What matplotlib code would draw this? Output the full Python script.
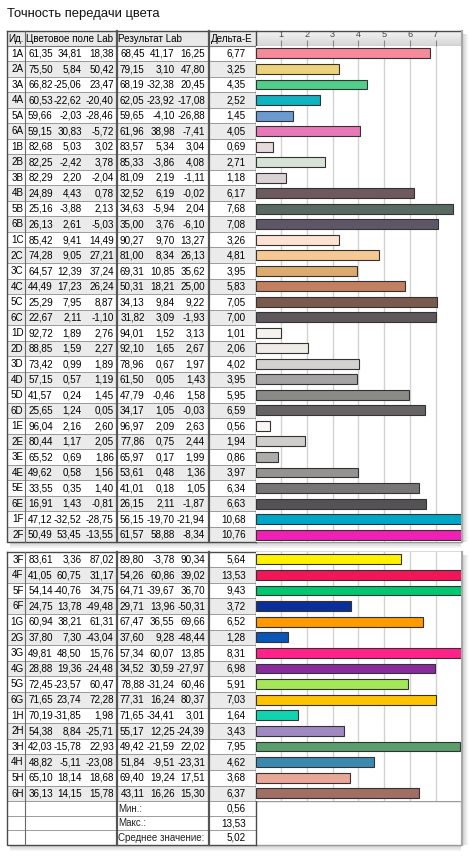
import numpy as np
import matplotlib.pyplot as plt
from matplotlib.patches import Rectangle

plt.rcParams['font.family'] = ['Liberation Sans', 'DejaVu Sans']

# ---- data ----
ids = ['1A', '2A', '3A', '4A', '5A', '6A',
       '1B', '2B', '3B', '4B', '5B', '6B',
       '1C', '2C', '3C', '4C', '5C', '6C',
       '1D', '2D', '3D', '4D', '5D', '6D',
       '1E', '2E', '3E', '4E', '5E', '6E',
       '1F', '2F',
       '3F', '4F', '5F', '6F',
       '1G', '2G', '3G', '4G', '5G', '6G',
       '1H', '2H', '3H', '4H', '5H', '6H']

ref_L = [61.35, 75.50, 66.82, 60.53, 59.66, 59.15,
         82.68, 82.25, 82.29, 24.89, 25.16, 26.13,
         85.42, 74.28, 64.57, 44.49, 25.29, 22.67,
         92.72, 88.85, 73.42, 57.15, 41.57, 25.65,
         96.04, 80.44, 65.52, 49.62, 33.55, 16.91,
         47.12, 50.49,
         83.61, 41.05, 54.14, 24.75,
         60.94, 37.80, 49.81, 28.88, 72.45, 71.65,
         70.19, 54.38, 42.03, 48.82, 65.10, 36.13]
ref_a = [34.81, 5.84, -25.06, -22.62, -2.03, 30.83,
         5.03, -2.42, 2.20, 4.43, -3.88, 2.61,
         9.41, 9.05, 12.39, 17.23, 7.95, 2.11,
         1.89, 1.59, 0.99, 0.57, 0.24, 1.24,
         2.16, 1.17, 0.69, 0.58, 0.35, 1.43,
         -32.52, 53.45,
         3.36, 60.75, -40.76, 13.78,
         38.21, 7.30, 48.50, 19.36, -23.57, 23.74,
         -31.85, 8.84, -15.78, -5.11, 18.14, 14.15]
ref_b = [18.38, 50.42, 23.47, -20.40, -28.46, -5.72,
         3.02, 3.78, -2.04, 0.78, 2.13, -5.03,
         14.49, 27.21, 37.24, 26.24, 8.87, -1.10,
         2.76, 2.27, 1.89, 1.19, 1.45, 0.05,
         2.60, 2.05, 1.86, 1.56, 1.40, -0.81,
         -28.75, -13.55,
         87.02, 31.17, 34.75, -49.48,
         61.31, -43.04, 15.76, -24.48, 60.47, 72.28,
         1.98, -25.71, 22.93, -23.08, 18.68, 15.78]

res_L = [68.45, 79.15, 68.19, 62.05, 59.65, 61.96,
         83.57, 85.33, 81.09, 32.52, 34.63, 35.00,
         90.27, 81.00, 69.31, 50.31, 34.13, 31.82,
         94.01, 92.10, 78.96, 61.50, 47.79, 34.17,
         96.97, 77.86, 65.97, 53.61, 41.01, 26.15,
         56.15, 61.57,
         89.80, 54.26, 64.71, 29.71,
         67.47, 37.60, 57.34, 34.52, 78.88, 77.31,
         71.65, 55.17, 49.42, 51.84, 69.40, 43.11]
res_a = [41.17, 3.10, -32.38, -23.92, -4.10, 38.98,
         5.34, -3.86, 2.19, 6.19, -5.94, 3.76,
         9.70, 8.34, 10.85, 18.21, 9.84, 3.09,
         1.52, 1.65, 0.67, 0.05, -0.46, 1.05,
         2.09, 0.75, 0.17, 0.48, 0.18, 2.11,
         -19.70, 58.88,
         -3.78, 60.86, -39.67, 13.96,
         36.55, 9.28, 60.07, 30.59, -31.24, 16.24,
         -34.41, 12.25, -21.59, -9.51, 19.24, 16.26]
res_b = [16.25, 47.80, 20.45, -17.08, -26.88, -7.41,
         3.04, 4.08, -1.11, -0.02, 2.04, -6.10,
         13.27, 26.13, 35.62, 25.00, 9.22, -1.93,
         3.13, 2.67, 1.97, 1.43, 1.58, -0.03,
         2.63, 2.44, 1.99, 1.36, 1.05, -1.87,
         -21.94, -8.34,
         90.34, 39.02, 36.70, -50.31,
         69.66, -48.44, 13.85, -27.97, 60.46, 80.37,
         3.01, -24.39, 22.02, -23.31, 17.51, 15.30]

delta_e = [6.77, 3.25, 4.35, 2.52, 1.45, 4.05,
           0.69, 2.71, 1.18, 6.17, 7.68, 7.08,
           3.26, 4.81, 3.95, 5.83, 7.05, 7.00,
           1.01, 2.06, 4.02, 3.95, 5.95, 6.59,
           0.56, 1.94, 0.86, 3.97, 6.34, 6.63,
           10.68, 10.76,
           5.64, 13.53, 9.43, 3.72,
           6.52, 1.28, 8.31, 6.98, 5.91, 7.03,
           1.64, 3.43, 7.95, 4.62, 3.68, 6.37]

bar_colors = ['#f48a9a', '#ecd27a', '#4fcf8a', '#10b3c0', '#6a9bd0', '#e879b8',
              '#e8d9da', '#d6e3d7', '#d9d3d5', '#6d5a5e', '#586a62', '#5e5666',
              '#fde2d2', '#f5c894', '#dcaa6c', '#c28060', '#7a5a4e', '#5e585e',
              '#f6f2ee', '#efebe6', '#d4d2d0', '#a4a2a2', '#8a8a86', '#676365',
              '#fcf6f4', '#d0cecc', '#aeacaa', '#959392', '#777575', '#545254',
              '#00a6c6', '#f020b4',
              '#fff200', '#f21658', '#00c870', '#0a2f9a',
              '#ff9a00', '#0a55b8', '#ff2288', '#8a2aa0', '#a4e85a', '#ffc400',
              '#10d4b0', '#a088c0', '#5a9e6c', '#3a8ab0', '#e8a898', '#a06e64']

summary_labels = ['Мин.:', 'Макс.:', 'Среднее значение:']
summary_values = [0.56, 13.53, 5.02]
col_titles = ['Ид.', 'Цветовое поле Lab', 'Результат Lab', 'Дельта-E']
scale_ticks = [1, 2, 3, 4, 5, 6, 7]
n_top = 32  # rows in the upper block

# ---- layout (pixels) ----
W, H = 469, 856
X0, X1, X2, X3, X4, X5 = 6.7, 25.3, 117.0, 209.3, 255.5, 461.3
HEAD_TOP, HEAD_BOT = 30.7, 45.7
ROW1 = 15.52
B2_TOP, ROW2, ROW_S = 551.5, 15.6, 14.6
FS = 7.1
GRAY_ROW = '#ebebeb'
LINE = '#8c8c8c'
DARK = '#4a4a4a'


def fmt(v):
    return '{:.2f}'.format(v).replace('.', ',')


fig = plt.figure(figsize=(W / 100, H / 100), dpi=100)
tab = fig.add_axes([0, 0, 1, 1])
tab.set_xlim(0, W)
tab.set_ylim(H, 0)
tab.axis('off')

fig.text(7 / W, 1 - 13.5 / H, 'Точность передачи цвета', fontsize=9.4,
         va='center', ha='left', color='#111111')


def shadow(x, y, w, h, side):
    for k in range(5):
        a = 0.16 - k * 0.03
        if side == 'r':
            tab.add_patch(Rectangle((x + k, y + 3), 1, h - 3, color='#000000', alpha=a, lw=0))
        else:
            tab.add_patch(Rectangle((x + 3, y + k), w - 3, 1, color='#000000', alpha=a, lw=0))


def data_row(top, h, i, shade):
    cy = top + h / 2 + 0.3
    tab.add_patch(Rectangle((X0, top), X4 - X0, h, color=GRAY_ROW if shade else 'white', lw=0))
    tab.plot([X0, X4], [top + h, top + h], color=LINE, lw=0.6)
    tab.text(23.6, cy, ids[i], ha='right', va='center', fontsize=FS)
    for x, v in zip([52.8, 81.6, 113.8], [ref_L[i], ref_a[i], ref_b[i]]):
        tab.text(x, cy, fmt(v), ha='right', va='center', fontsize=FS)
    for x, v in zip([144.6, 174.6, 205.0], [res_L[i], res_a[i], res_b[i]]):
        tab.text(x, cy, fmt(v), ha='right', va='center', fontsize=FS)
    tab.text(245.5, cy, fmt(delta_e[i]), ha='right', va='center', fontsize=FS)


def frame(top, bottom):
    tab.plot([X0, X0, X4], [top, bottom, bottom], color=DARK, lw=1.0)
    tab.plot([X0, X5], [top, top], color=DARK, lw=1.0)
    tab.plot([X4, X5], [bottom, bottom], color='#999999', lw=1.0)
    tab.plot([X1, X1], [top, bottom], color='#6a6a6a', lw=0.8)
    tab.plot([X2, X2], [top, bottom], color='#555555', lw=1.6)
    tab.plot([X3, X3], [top, bottom], color='#555555', lw=1.6)
    tab.plot([X4, X4], [top, bottom], color=DARK, lw=1.0)
    tab.plot([X5 + 0.5, X5 + 0.5], [top, bottom], color='#a8a8a8', lw=1.6)
    shadow(X5 + 1.3, top, 0, bottom - top, 'r')
    shadow(X0, bottom + 0.6, X5 - X0, 0, 'b')


def bar_panel(top, bottom, rows, header=False):
    ax = fig.add_axes([X4 / W, 1 - bottom / H, (X5 - X4) / W, (bottom - top) / H])
    vals = [delta_e[i] for i in rows]
    cols = [bar_colors[i] for i in rows]
    y = np.arange(len(rows))
    ax.barh(y, vals, height=0.64, color=cols, edgecolor='#333333', linewidth=0.8, zorder=3)
    ax.set_xlim(0, 8)
    ax.set_ylim(len(rows) - 0.5, -0.5)
    ax.set_yticks([])
    ax.set_xticks(scale_ticks)
    ax.grid(axis='x', color='#d2d2d2', lw=1.0, zorder=0)
    for s in ax.spines.values():
        s.set_visible(False)
    if header:
        ax.xaxis.tick_top()
        ax.tick_params(axis='x', direction='out', length=4, width=0.8, color='#888888',
                       pad=0.5, labelsize=6.6, labelcolor='#444444')
    else:
        ax.tick_params(axis='x', length=0, labelbottom=False)
    return ax


# header row
tab.add_patch(Rectangle((X0, HEAD_TOP), X4 - X0, HEAD_BOT - HEAD_TOP, color='#e9e9e9', lw=0))
grad = np.linspace(0.95, 0.84, 30).reshape(-1, 1)
tab.imshow(grad, cmap='gray', vmin=0, vmax=1, aspect='auto',
           extent=[X4, X5, HEAD_BOT, HEAD_TOP], zorder=0)
tab.set_xlim(0, W)
tab.set_ylim(H, 0)
hy = (HEAD_TOP + HEAD_BOT) / 2 + 0.3
for x, t in zip([8.0, 26.5, 118.5, 210.5], col_titles):
    tab.text(x, hy, t, ha='left', va='center', fontsize=FS)
tab.plot([X0, X5], [HEAD_BOT, HEAD_BOT], color='#777777', lw=0.8)

# upper block
for r in range(n_top):
    data_row(HEAD_BOT + r * ROW1, ROW1, r, r % 2 == 1)
frame(HEAD_TOP, HEAD_BOT + n_top * ROW1)

# lower block
n_low = len(ids) - n_top
for r in range(n_low):
    data_row(B2_TOP + r * ROW2, ROW2, n_top + r, r % 2 == 1)
sum_top = B2_TOP + n_low * ROW2
for k, (lab, val) in enumerate(zip(summary_labels, summary_values)):
    top = sum_top + k * ROW_S
    cy = top + ROW_S / 2 + 0.3
    tab.add_patch(Rectangle((X0, top), X5 - X0, ROW_S, color='white', lw=0))
    tab.plot([X0, X4], [top + ROW_S, top + ROW_S], color=LINE, lw=0.6)
    tab.text(118.0, cy, lab, ha='left', va='center', fontsize=7.0, color='#222222')
    tab.text(245.5, cy, fmt(val), ha='right', va='center', fontsize=FS)
tab.plot([X4, X5], [sum_top, sum_top], color='#9a9a9a', lw=1.0)
frame(B2_TOP, sum_top + 3 * ROW_S)

# bar panels
bar_panel(HEAD_BOT, HEAD_BOT + n_top * ROW1, list(range(n_top)), header=True)
bar_panel(B2_TOP, sum_top, list(range(n_top, len(ids))))

fig.savefig('out.png', dpi=100)
